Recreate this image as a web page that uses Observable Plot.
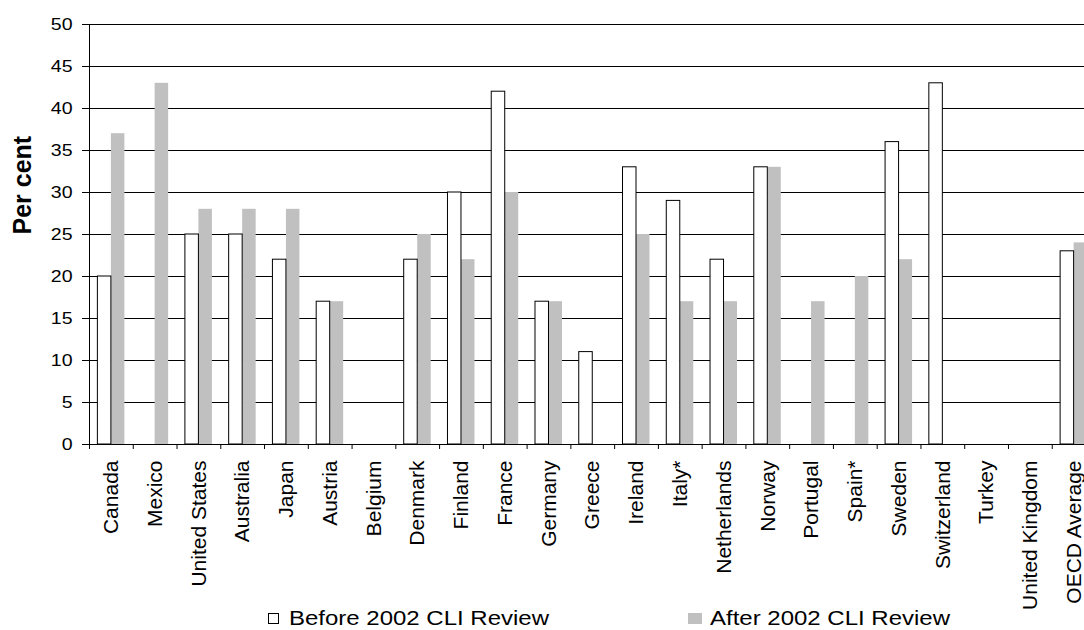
<!DOCTYPE html>
<html>
<head>
<meta charset="utf-8">
<script src="https://cdn.jsdelivr.net/npm/d3@7"></script>
<script src="https://cdn.jsdelivr.net/npm/@observablehq/plot@0.6"></script>
<style>
  html, body { margin: 0; padding: 0; background: #fff; overflow: hidden; }
  #chart { width: 1084px; }
  #legend { position: relative; width: 1084px; height: 34px; font-family: "Liberation Sans", Arial, sans-serif; color: #000; }
  #legend .swatch { position: absolute; top: 17px; width: 11px; height: 11px; box-sizing: border-box; }
  #legend .label { position: absolute; top: 12px; font-size: 19.5px; line-height: 20px; white-space: nowrap; transform: scaleX(1.23); transform-origin: 0 0; }
</style>
</head>
<body>
<div id="chart"></div>
<div id="legend"></div>
<script>
// Share of the cycle (per cent) by country, before and after the 2002 CLI review
const countries = [
  "Canada", "Mexico", "United States", "Australia", "Japan", "Austria", "Belgium",
  "Denmark", "Finland", "France", "Germany", "Greece", "Ireland", "Italy*",
  "Netherlands", "Norway", "Portugal", "Spain*", "Sweden", "Switzerland",
  "Turkey", "United Kingdom", "OECD Average"
];
const beforeReview = [20, null, 25, 25, 22, 17, null, 22, 30, 42, 17, 11, 33, 29, 22, 33, null, null, 36, 43, null, null, 23];
const afterReview  = [37, 43, 28, 28, 28, 17, null, 25, 22, 30, 17, null, 25, 17, 17, 33, 17, 20, 22, null, null, null, 24];
const seriesNames = ["Before 2002 CLI Review", "After 2002 CLI Review"];
const yTicks = [0, 5, 10, 15, 20, 25, 30, 35, 40, 45, 50];

const rows = [];
countries.forEach((c, i) => {
  if (beforeReview[i] != null) rows.push({country: c, series: seriesNames[0], value: beforeReview[i]});
  if (afterReview[i] != null) rows.push({country: c, series: seriesNames[1], value: afterReview[i]});
});

// layout
const W = 1084, H = 596;
const frameLeft = 89, frameTop = 24, frameBottom = 444;
const frameRight = 1095.5;              // plot area continues a little past the page edge
const step = (frameRight - frameLeft) / countries.length;
const barW = 13.5;
const gray = "#c0c0c0";

const chart = Plot.plot({
  width: W,
  height: H,
  marginLeft: frameLeft,
  marginRight: 0,
  marginTop: frameTop,
  marginBottom: H - frameBottom,
  style: {fontFamily: "Liberation Sans, Arial, sans-serif", fontSize: "17px", color: "#000", background: "#fff", overflow: "visible"},
  x: {type: "band", domain: countries, range: [frameLeft, frameRight], padding: 0, round: false},
  y: {domain: [0, 50], range: [frameBottom, frameTop]},
  marks: [
    Plot.ruleY(yTicks.filter(d => d > 0), {stroke: "#000", strokeWidth: 1}),
    Plot.barY(rows.filter(d => d.series === seriesNames[1]), {
      x: "country", y: "value", fill: gray,
      insetLeft: step / 2, insetRight: step / 2 - barW
    }),
    Plot.barY(rows.filter(d => d.series === seriesNames[0]), {
      x: "country", y: "value", fill: "#fff", stroke: "#000", strokeWidth: 1,
      insetLeft: step / 2 - barW, insetRight: step / 2
    }),
    Plot.ruleY([0], {stroke: "#000"}),
    Plot.frame({anchor: "left", stroke: "#000"}),
    Plot.axisY({ticks: yTicks, tickSize: 7, tickPadding: 10, fontSize: 17, label: null}),
    Plot.axisX({tickSize: 5, fill: "none", dx: -step / 2, label: null}),
    Plot.axisX({tickSize: 0, tickPadding: 16, tickRotate: -90, fontSize: 21, label: null}),
    Plot.text(["Per cent"], {frameAnchor: "left", rotate: -90, dx: -66.5, fontSize: 25, fontWeight: "bold"})
  ]
});

// slightly wide digits on the value axis
d3.select(chart).selectAll('g[aria-label="y-axis tick label"] text').each(function() {
  const t = d3.select(this);
  const x = +t.attr("x") || 0, y = +t.attr("y") || 0;
  const tr = t.attr("transform") || "";
  t.attr("transform", `${tr} translate(${x},${y}) scale(1.15,1) translate(${-x},${-y})`);
});

document.getElementById("chart").append(chart);

// legend below the chart
const legend = d3.select("#legend");
const items = [
  {name: seriesNames[0], box: 268, text: 289, fill: "#fff", border: "1px solid #000"},
  {name: seriesNames[1], box: 688, text: 710, fill: gray, border: "none"}
];
items.forEach(it => {
  legend.append("div").attr("class", "swatch")
    .style("left", it.box + "px")
    .style("width", (it.fill === gray ? 14 : 11) + "px")
    .style("background", it.fill).style("border", it.border);
  legend.append("div").attr("class", "label").style("left", it.text + "px").text(it.name);
});
</script>
</body>
</html>
